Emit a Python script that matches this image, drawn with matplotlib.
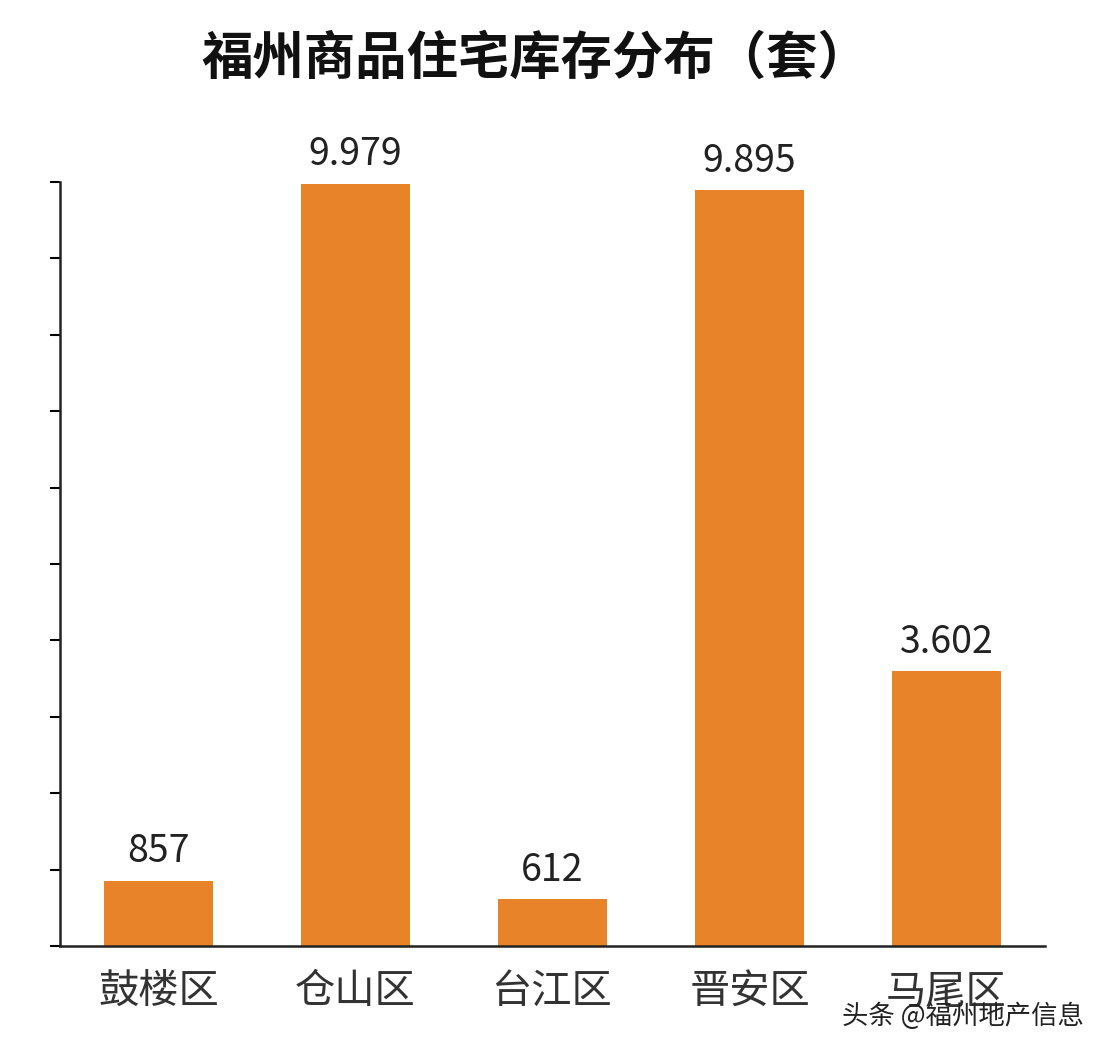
import matplotlib
matplotlib.use("Agg")
import matplotlib.pyplot as plt

plt.rcParams['font.family'] = ['Noto Sans CJK SC', 'DejaVu Sans']

categories = ["鼓楼区", "仓山区", "台江区", "晋安区", "马尾区"]
values = [857, 9979, 612, 9895, 3602]
labels = ["857", "9.979", "612", "9.895", "3.602"]

fig = plt.figure(figsize=(11.08, 10.54), dpi=100)
ax = fig.add_axes([60/1108, 108/1054, 985/1108, 764/1054])
bars = ax.bar(range(len(categories)), values, width=0.55, color="#E8832A")
for i, (v, l) in enumerate(zip(values, labels)):
    ax.text(i, v + 120, l, ha="center", va="bottom", fontsize=27, color="#222222")
ax.set_xlim(-0.5, 4.5)
ax.set_ylim(0, 10000)
ax.set_yticks(range(0, 10001, 1000))
ax.set_yticklabels([])
ax.set_xticks(range(len(categories)))
ax.set_xticklabels(categories, fontsize=29, color="#333333")
ax.tick_params(axis='x', length=0, pad=18)
ax.tick_params(axis='y', length=7, width=1.5, direction='out')
for s in ["top", "right"]:
    ax.spines[s].set_visible(False)
for s in ["left", "bottom"]:
    ax.spines[s].set_linewidth(1.8)
    ax.spines[s].set_color("#222222")
fig.text(0.483, 0.945, "福州商品住宅库存分布（套）", ha="center", va="center",
         fontsize=37, fontweight="bold", color="#111111")
fig.text(0.978, 0.036, "头条 @福州地产信息", ha="right", va="center",
         fontsize=19, color="#222222")
fig.savefig("out.png", dpi=100, facecolor="white")
